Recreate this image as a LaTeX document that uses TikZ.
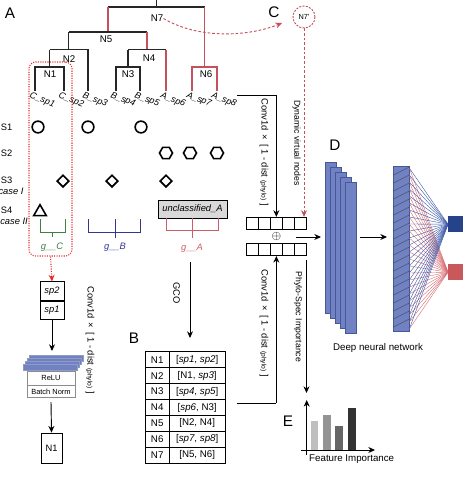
\documentclass[tikz,border=0pt]{standalone}
\usepackage{fontspec}
\setmainfont{Liberation Sans}
\usepackage{amsmath}
\usepackage{tikz}
\usetikzlibrary{positioning}
\usetikzlibrary{shapes.geometric}
\usetikzlibrary{arrows.meta}
\definecolor{lineageColor}{RGB}{196,82,92}
\definecolor{focusColor}{RGB}{228,45,45}
\definecolor{groupC}{RGB}{62,128,70}
\definecolor{groupB}{RGB}{52,56,148}
\definecolor{groupA}{RGB}{204,94,104}
\definecolor{layerColor}{RGB}{112,130,196}
\definecolor{layerEdgeColor}{RGB}{70,88,150}
\definecolor{outBlueColor}{RGB}{38,66,136}
\definecolor{outRedColor}{RGB}{200,88,90}
\definecolor{fanBlueColor}{RGB}{60,90,170}
\definecolor{fanRedColor}{RGB}{215,110,115}

\begin{document}
\begin{tikzpicture}[x=0.75pt,y=-0.75pt]

          \tikzstyle{panelLetter} = [font=\fontsize{11.5}{12}\selectfont, inner sep=0pt];
          \tikzstyle{treeLabel} = [font=\fontsize{7.3}{8}\selectfont, inner sep=0pt];
          \tikzstyle{leafLabel} = [font=\fontsize{6.8}{8}\selectfont\itshape, inner sep=0pt, anchor=north west, rotate=-22, xshift=-2.5pt, yshift=-1pt];
          \tikzstyle{rowLabel} = [font=\fontsize{7}{8}\selectfont, inner sep=0pt];
          \tikzstyle{sideLabel} = [font=\fontsize{7}{8}\selectfont, inner sep=0pt, rotate=-90];
          \tikzstyle{groupLabel} = [font=\fontsize{7}{8}\selectfont\itshape, inner sep=0pt];

          \tikzstyle{treeEdge} = [line width=0.9pt, black!85];
          \tikzstyle{lineageEdge} = [line width=0.9pt, lineageColor];
          \tikzstyle{flowEdge} = [line width=0.7pt, -{Stealth[length=5pt,width=4.5pt]}];
          \tikzstyle{virtualEdge} = [line width=0.7pt, lineageColor, dash pattern=on 2pt off 1.5pt, -{Stealth[length=5pt,width=4.5pt]}];
          \tikzstyle{focusEdge} = [line width=0.8pt, focusColor, densely dotted, -{Stealth[length=5pt,width=4.5pt]}];

          \tikzstyle{circleMark} = [circle, draw, line width=1.2pt, minimum size=8.8pt, inner sep=0pt];
          \tikzstyle{hexMark} = [regular polygon, regular polygon sides=6, draw, line width=1.2pt, minimum size=9.8pt, inner sep=0pt];
          \tikzstyle{diamondMark} = [diamond, draw, line width=1.2pt, minimum size=9.3pt, inner sep=0pt];
          \tikzstyle{triMark} = [regular polygon, regular polygon sides=3, draw, line width=1.2pt, minimum size=11pt, inner sep=0pt];

          \tikzstyle{unclassBox} = [draw, line width=0.7pt, fill=black!15, minimum width=51.75pt, minimum height=13.5pt, inner sep=0pt, font=\fontsize{7}{8}\selectfont\itshape];
          \tikzstyle{focusBox} = [draw=focusColor, densely dotted, line width=0.8pt, rounded corners=5pt, minimum width=32.25pt, minimum height=145.5pt, inner sep=0pt];
          \tikzstyle{cell} = [draw, line width=0.6pt, minimum width=18pt, minimum height=13.7pt, inner sep=0pt, font=\fontsize{7}{8}\selectfont\itshape];
          \tikzstyle{convLayer} = [draw=layerEdgeColor!60, fill=layerColor, line width=0.3pt, minimum width=40.5pt, minimum height=4.5pt, inner sep=0pt];
          \tikzstyle{normBox} = [draw=black!45, fill=white, line width=0.5pt, minimum width=36pt, inner sep=0pt, font=\fontsize{5.6}{6}\selectfont];
          \tikzstyle{outBox} = [draw, line width=0.6pt, minimum width=15.75pt, minimum height=22.5pt, inner sep=0pt, font=\fontsize{7}{8}\selectfont];
          \tikzstyle{tableKey} = [draw, line width=0.6pt, minimum width=18.2pt, minimum height=11.96pt, inner sep=0pt, font=\fontsize{7.3}{8}\selectfont];
          \tikzstyle{tableVal} = [draw, line width=0.6pt, minimum width=41.8pt, minimum height=11.96pt, inner sep=0pt, font=\fontsize{7.3}{8}\selectfont];
          \tikzstyle{vecCell} = [draw, line width=0.6pt, minimum width=9.1pt, minimum height=9pt, inner sep=0pt];
          \tikzstyle{virtualNode} = [circle, draw=lineageColor, dash pattern=on 1.5pt off 1pt, line width=0.7pt, minimum size=16.5pt, inner sep=0pt, font=\fontsize{5.5}{6}\selectfont];
          \tikzstyle{dnnLayer} = [draw=layerEdgeColor, fill=layerColor, line width=0.4pt, minimum width=8.25pt, minimum height=113.25pt, inner sep=0pt];
          \tikzstyle{denseLayer} = [draw=layerEdgeColor, fill=layerColor, line width=0.4pt, minimum width=12pt, minimum height=123.75pt, inner sep=0pt];
          \tikzstyle{outSquare} = [minimum width=10.8pt, minimum height=11.2pt, inner sep=0pt];
          \tikzstyle{hatchLine} = [line width=0.3pt, black!70];
          \tikzstyle{fanBlue} = [line width=0.3pt, fanBlueColor];
          \tikzstyle{fanRed} = [line width=0.3pt, fanRedColor];
          \tikzstyle{axisEdge} = [line width=0.6pt, -{Stealth[length=5pt,width=4.5pt]}];

          \useasboundingbox (0,0) rectangle (467,479);

          % panel letters
          \node[panelLetter] (pA) at (10,13) {A};
          \node[panelLetter] (pB) at (134,338) {B};
          \node[panelLetter] (pC) at (274,12) {C};
          \node[panelLetter] (pD) at (335,145) {D};
          \node[panelLetter] (pE) at (288,421) {E};

          % tree
          \coordinate (root) at (156.2,0);
          \coordinate (n7) at (156.2,7);
          \coordinate (n5) at (107.9,32);
          \coordinate (n2) at (68.75,49.5);
          \coordinate (n4) at (147,49.5);
          \coordinate (n1) at (49.5,67);
          \coordinate (n3) at (128,67);
          \coordinate (n6) at (204.5,67);
          \coordinate (sp1) at (35,91);
          \coordinate (sp2) at (64,91);
          \coordinate (sp3) at (88,91);
          \coordinate (sp4) at (116,91);
          \coordinate (sp5) at (140,91);
          \coordinate (sp6) at (166,91);
          \coordinate (sp7) at (192,91);
          \coordinate (sp8) at (217,91);

          \draw[treeEdge] (root) -- (n7);
          \draw[treeEdge] (n5 |- n7) -- (n6 |- n7);
          \draw[lineageEdge] (n5 |- n7) -- (n5);
          \draw[lineageEdge] (n6 |- n7) -- (n6);
          \draw[treeEdge] (n2 |- n5) -- (n4 |- n5);
          \draw[treeEdge] (n2 |- n5) -- (n2);
          \draw[lineageEdge] (n4 |- n5) -- (n4);
          \draw[treeEdge] (n1 |- n2) -- (sp3 |- n2) -- (sp3);
          \draw[treeEdge] (n1 |- n2) -- (n1);
          \draw[treeEdge] (n3 |- n4) -- (sp6 |- n4);
          \draw[treeEdge] (n3 |- n4) -- (n3);
          \draw[lineageEdge] (sp6 |- n4) -- (sp6);
          \draw[treeEdge] (sp1) -- (sp1 |- n1) -- (sp2 |- n1) -- (sp2);
          \draw[treeEdge] (sp4) -- (sp4 |- n3) -- (sp5 |- n3) -- (sp5);
          \draw[lineageEdge] (sp7) -- (sp7 |- n6) -- (sp8 |- n6) -- (sp8);

          \node[treeLabel] (N7) at (157,18.5) {N7};
          \node[treeLabel] (N5) at (106,39.5) {N5};
          \node[treeLabel] (N2) at (69,59) {N2};
          \node[treeLabel] (N4) at (149,58) {N4};
          \node[treeLabel] (N1) at (50,74) {N1};
          \node[treeLabel] (N3) at (128,74) {N3};
          \node[treeLabel] (N6) at (206,74) {N6};

          \node[leafLabel] (lsp1) at (sp1) {C\_sp1};
          \node[leafLabel] (lsp2) at (sp2) {C\_sp2};
          \node[leafLabel] (lsp3) at (sp3) {B\_sp3};
          \node[leafLabel] (lsp4) at (sp4) {B\_sp4};
          \node[leafLabel] (lsp5) at (sp5) {B\_sp5};
          \node[leafLabel] (lsp6) at (sp6) {A\_sp6};
          \node[leafLabel] (lsp7) at (sp7) {A\_sp7};
          \node[leafLabel] (lsp8) at (sp8) {A\_sp8};

          % strategies
          \node[rowLabel] (S1) at (6.5,127) {S1};
          \node[rowLabel] (S2) at (6.5,153) {S2};
          \node[rowLabel] (S3) at (6.5,180) {S3};
          \node[rowLabel, font=\fontsize{7}{8}\selectfont\itshape] (caseOne) at (11,191) {case I};
          \node[rowLabel] (S4) at (6.5,210) {S4};
          \node[rowLabel, font=\fontsize{7}{8}\selectfont\itshape] (caseTwo) at (14,221) {case II};

          \node[circleMark] (c1) at (38,127) {};
          \node[circleMark] (c3) at (88,127) {};
          \node[circleMark] (c5) at (141,127) {};
          \node[hexMark] (h6) at (166,153) {};
          \node[hexMark] (h7) at (190,153) {};
          \node[hexMark] (h8) at (217,153) {};
          \node[diamondMark] (d2) at (63,181) {};
          \node[diamondMark] (d3) at (112,181) {};
          \node[diamondMark] (d6) at (166,181) {};
          \node[triMark] (t1) at (40,212) {};
          \node[unclassBox] (unA) at (192.5,209) {unclassified\_A};

          % groups
          \draw[groupC, line width=0.7pt] (40,219) -- (40,232.7) -- (65,232.7) -- (65,219);
          \draw[groupC, line width=0.7pt] (52.5,232.7) -- (52.5,237);
          \draw[groupB, line width=0.7pt] (88,219) -- (88,232.7) -- (140,232.7) -- (140,219);
          \draw[groupB, line width=0.7pt] (115,219) -- (115,238);
          \draw[groupA, line width=0.7pt] (166,218) -- (166,230) -- (218,230) -- (218,218);
          \draw[groupA, line width=0.7pt] (192,218) -- (192,238);
          \node[groupLabel, groupC] (gC) at (52,247) {g\_\_C};
          \node[groupLabel, groupB] (gB) at (115,247) {g\_\_B};
          \node[groupLabel, groupA] (gA) at (192,248) {g\_\_A};

          % focus on clade C
          \node[focusBox] (cBox) at (50.5,159) {};
          \node[cell] (sp2cell) at (52,291) {sp2};
          \node[cell, below=0pt of sp2cell] (sp1cell) {sp1};
          \draw[focusEdge] (cBox.south) -- (sp2cell.north);

          \coordinate (convTop) at (52,351);
          \draw[flowEdge] (sp1cell.south) -- (convTop);
          \foreach \k in {3,2,1,0}
            \node[convLayer] (conv\k) at ({50+2*\k},{367-3*\k}) {};
          \node[normBox, minimum height=10.5pt] (relu) at (51,378) {ReLU};
          \node[normBox, minimum height=9pt, below=0pt of relu] (bnorm) {Batch Norm};
          \node[outBox] (n1out) at (51.5,448) {N1};
          \draw[flowEdge] ([yshift=-3pt]bnorm.south) -- (n1out.north);
          \node[sideLabel] (convLeft) at (90,340) {Conv1d \,×\, [ 1 - dist {\fontsize{5}{6}\selectfont(phylo)} ]};

          % GCO table
          \coordinate (gcoStart) at (190,262);
          \coordinate (gcoEnd) at (190,338);
          \draw[flowEdge] (gcoStart) -- (gcoEnd);
          \node[sideLabel] (gco) at (176.5,293) {GCO};
          \foreach \i/\key/\val in {1/N1/{[\textit{sp1}, \textit{sp2}]}, 2/N2/{[N1, \textit{sp3}]},
              3/N3/{[\textit{sp4}, \textit{sp5}]}, 4/N4/{[\textit{sp6}, N3]}, 5/N5/{[N2, N4]},
              6/N6/{[\textit{sp7}, \textit{sp8}]}, 7/N7/{[N5, N6]}} {
            \node[tableKey] (key\i) at (157.2,{343.73+15.94*\i}) {\key};
            \node[tableVal] (val\i) at (197.2,{343.73+15.94*\i}) {\val};
          }

          % feature vectors
          \foreach \k in {1,...,5} {
            \node[vecCell] (top\k) at ({246+12.14*(\k-0.5)},223.3) {};
            \node[vecCell] (bot\k) at ({246+12.14*(\k-0.5)},249.6) {};
          }
          \node[font=\fontsize{9}{10}\selectfont, inner sep=0pt] (oplus) at (276.3,236.6) {$\oplus$};

          \coordinate (leafOut) at (237,95);
          \draw[line width=0.7pt] (leafOut) -- (top3 |- leafOut);
          \draw[flowEdge] (top3 |- leafOut) -- (top3.north);
          \node[sideLabel] (convTopLabel) at (264,152) {Conv1d \,×\, [ 1 - dist {\fontsize{5}{6}\selectfont(phylo)} ]};

          \coordinate (tabOut) at (237,403);
          \draw[line width=0.7pt] (tabOut) -- (bot3 |- tabOut);
          \draw[flowEdge] (bot3 |- tabOut) -- (bot3.south);
          \node[sideLabel] (convBotLabel) at (264,323) {Conv1d \,×\, [ 1 - dist {\fontsize{5}{6}\selectfont(phylo)} ]};

          % virtual node
          \node[virtualNode] (n7v) at (304,17) {N7'};
          \coordinate (cArrowEnd) at (282,23);
          \draw[virtualEdge] (N7.east) .. controls (200,40) and (250,36) .. (cArrowEnd);
          \draw[virtualEdge] (n7v.south) -- (n7v |- top5.north);
          \node[sideLabel, font=\fontsize{6.5}{7}\selectfont] (dynLabel) at (296.5,143) {Dynamic virtual nodes};

          % deep neural network
          \coordinate (sumOut) at (296,237);
          \coordinate (dnnIn) at (321,237);
          \draw[flowEdge] (sumOut) -- (dnnIn);
          \foreach \k in {0,...,4}
            \node[dnnLayer] (dl\k) at ({330.5+5*\k},{237.5+5*\k}) {};
          \coordinate (dnnOut) at (360,237);
          \coordinate (fcIn) at (387,237);
          \draw[flowEdge] (dnnOut) -- (fcIn);
          \node[denseLayer] (dense) at (401.3,249.2) {};
          \foreach \k in {0,...,19}
            \draw[hatchLine] (393.3,{175+8*\k}) -- (409.3,{167+8*\k});
          \node[outSquare] (yBlue) at (455.5,224.2) {};
          \node[outSquare] (yRed) at (455.5,272.2) {};
          \foreach \k in {0,...,23} {
            \coordinate (fc\k) at (409.3,{168+7*\k});
            \draw[fanRed] (fc\k) -- (yRed.west);
          }
          \foreach \k in {0,...,23}
            \draw[fanBlue] (fc\k) -- (yBlue.west);
          \fill[outBlueColor] (yBlue.south west) rectangle (yBlue.north east);
          \fill[outRedColor] (yRed.south west) rectangle (yRed.north east);
          \node[font=\fontsize{7.3}{8}\selectfont, inner sep=0pt] (dnnLabel) at (378,348) {Deep neural network};

          % importance
          \coordinate (psStart) at (306.5,260);
          \coordinate (psEnd) at (306.5,393);
          \draw[flowEdge] (psStart) -- (psEnd);
          \node[sideLabel, font=\fontsize{6.5}{7}\selectfont] (psLabel) at (298,317) {Phylo-Spec Importance};

          \coordinate (eOrigin) at (306.7,455);
          \coordinate (eTop) at (306.7,400);
          \coordinate (eLeft) at (301,450);
          \coordinate (eRight) at (375,450);
          \draw[axisEdge] (eOrigin) -- (eTop);
          \draw[axisEdge] (eLeft) -- (eRight);
          \fill[black!25] (310.7,420.7) rectangle (318.3,450);
          \fill[black!42] (322.7,415) rectangle (330.7,450);
          \fill[black!60] (335.3,425.7) rectangle (343.3,450);
          \fill[black!80] (348.3,408.3) rectangle (356,450);
          \node[font=\fontsize{7.3}{8}\selectfont, inner sep=0pt] (fiLabel) at (351.7,459) {Feature Importance};

\end{tikzpicture}
\end{document}
